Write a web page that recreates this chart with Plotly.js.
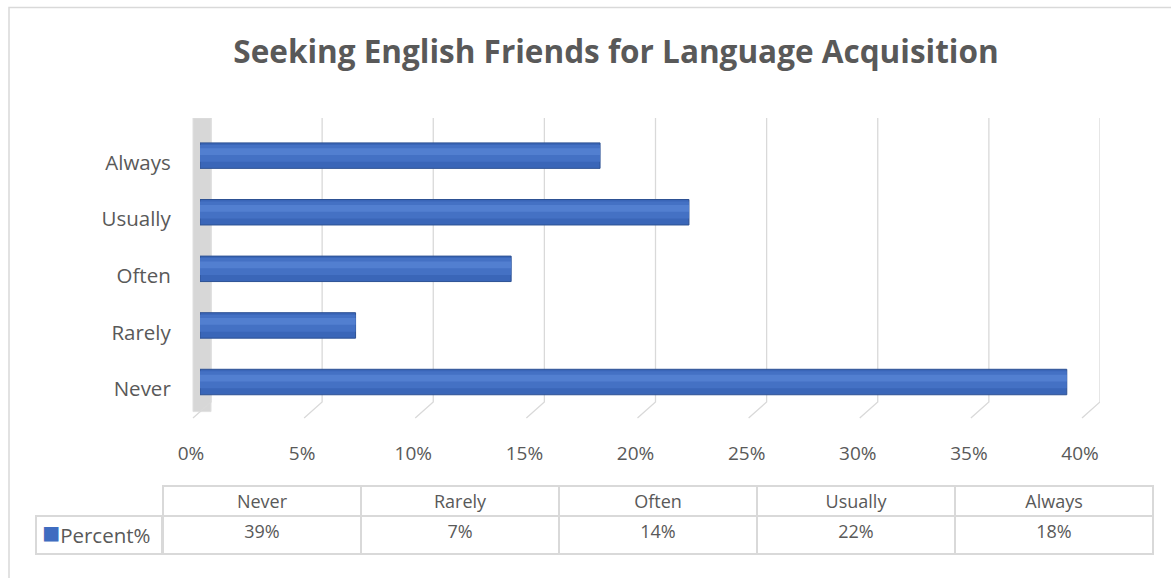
<!DOCTYPE html>
<html>
<head>
<meta charset="utf-8">
<script src="https://cdn.plot.ly/plotly-3.0.1.min.js"></script>
<style>html,body{margin:0;padding:0;background:#fff;}#chart{width:1171px;height:578px;}</style>
</head>
<body>
<div id="chart"></div>
<script>
// ---- data ----
const categories = ["Never", "Rarely", "Often", "Usually", "Always"];
const percentValues = [0.39, 0.07, 0.14, 0.22, 0.18];
const seriesName = "Percent%";
const xTickValues = [0, 0.05, 0.10, 0.15, 0.20, 0.25, 0.30, 0.35, 0.40];
const xTickLabels = ["0%", "5%", "10%", "15%", "20%", "25%", "30%", "35%", "40%"];
const chartTitle = "Seeking English Friends for Language Acquisition";

// ---- layout helpers (pixel -> paper) ----
const W = 1171, H = 578;
const px = v => v / W;
const py = v => 1 - v / H;

const yIdx = categories.map((c, i) => i);
const txtColor = "#595959";
const gridColor = "#d9d9d9";
const font = "Open Sans, Liberation Sans, sans-serif";

// y scale: 56.6 px per category
const yPx = 56.6;
const yBack = -0.353, yTop = 4.665;      // back-plane bottom / top
const floorDx = 0.0081;                  // 3D depth in x units
const floorDy = 0.283;                   // 3D depth in y units
const yLow = yBack - floorDy - 0.05;
const yDomBottom = 402 + (yBack - yLow) * yPx;

// x scale for back plane: 0 -> 211px, 0.40 -> 1100px
const xPxPerUnit = (1100 - 211) / 0.40;
const xLow = -0.01;
const xDomLeft = 211 + xLow * xPxPerUnit;

// back-plane gridlines + 3D floor diagonals built from tick values
const gridX = [], gridY = [];
xTickValues.forEach(t => {
  gridX.push(t, t, t - floorDx, null);
  gridY.push(yTop, yBack, yBack - floorDy, null);
});

const traces = [
  { // gridlines on back plane (subplot x/y, drawn first)
    type: "scatter", mode: "lines", x: gridX, y: gridY, xaxis: "x", yaxis: "y",
    line: { color: gridColor, width: 1.3 }, hoverinfo: "skip", showlegend: false
  },
  { // main bar (dark edge)
    type: "bar", orientation: "h", name: seriesName, x: percentValues, y: yIdx,
    xaxis: "x2", yaxis: "y",
    width: 0.45, offset: -0.225,
    marker: { color: "#3a66b8", line: { color: "#2d5193", width: 1 } },
    showlegend: false
  },
  { // mid tone
    type: "bar", orientation: "h", x: percentValues, y: yIdx, xaxis: "x2", yaxis: "y",
    width: 0.30, offset: -0.11,
    marker: { color: "#4471c4", line: { width: 0 } }, showlegend: false, hoverinfo: "skip"
  },
  { // highlight
    type: "bar", orientation: "h", x: percentValues, y: yIdx, xaxis: "x2", yaxis: "y",
    width: 0.12, offset: 0.01,
    marker: { color: "#527fd0", line: { width: 0 } }, showlegend: false, hoverinfo: "skip"
  },
  { // data table
    type: "table",
    domain: { x: [px(163), px(1153)], y: [py(556), py(486)] },
    columnwidth: categories.map(() => 1),
    header: {
      values: categories, height: 30, align: "center",
      fill: { color: "#ffffff" }, line: { color: gridColor, width: 1.5 },
      font: { family: font, size: 18, color: txtColor }
    },
    cells: {
      values: percentValues.map(v => [Math.round(v * 100) + "%"]), height: 38, align: "center",
      fill: { color: "#ffffff" }, line: { color: gridColor, width: 1.5 },
      font: { family: font, size: 18, color: txtColor }
    }
  },
  { // legend-key cell border
    type: "table",
    domain: { x: [px(36), px(163)], y: [py(556), py(516)] },
    header: {
      values: [""], height: 38,
      fill: { color: "#ffffff" }, line: { color: gridColor, width: 1.5 },
      font: { family: font, size: 18, color: txtColor }
    },
    cells: { values: [[]], height: 0 }
  }
];

const layout = {
  width: W, height: H,
  margin: { l: 0, r: 0, t: 0, b: 0 },
  paper_bgcolor: "#ffffff", plot_bgcolor: "rgba(0,0,0,0)",
  barmode: "overlay",
  showlegend: false,
  font: { family: font, color: txtColor },
  title: {
    text: "<b>" + chartTitle + "</b>",
    font: { family: font, size: 31.5, color: txtColor },
    x: px(616), xanchor: "center", y: py(52), yanchor: "middle"
  },
  xaxis: { // back plane (gridlines, wall)
    domain: [px(xDomLeft), px(1100)], range: [xLow, 0.40], anchor: "y",
    showgrid: false, showticklabels: false, ticks: "",
    zeroline: false, showline: false
  },
  xaxis2: { // bars + tick labels
    domain: [px(200), px(1089)], range: [0, 0.40], anchor: "y",
    showgrid: false, zeroline: false, showline: false,
    tickvals: xTickValues, ticktext: xTickLabels, ticks: "",
    tickfont: { family: font, size: 19, color: txtColor },
    ticklabelstandoff: 19, ticklabelshift: -9
  },
  yaxis: {
    domain: [py(yDomBottom), py(118)], range: [yLow, yTop],
    tickvals: yIdx, ticktext: categories, ticks: "",
    showgrid: false, zeroline: false, showline: false,
    tickfont: { family: font, size: 20.5, color: txtColor },
    ticklabelstandoff: 17, ticklabelshift: 7
  },
  annotations: [
    {
      xref: "paper", yref: "paper", x: px(40), y: py(531), xanchor: "left", yanchor: "middle",
      showarrow: false,
      text: '<span style="font-size:30px;color:#3f6cc0">■</span>' + seriesName,
      font: { family: font, size: 20.5, color: txtColor }
    }
  ],
  shapes: [
    { // outer chart frame
      type: "rect", xref: "paper", yref: "paper",
      x0: px(9), x1: 1.05, y0: -0.05, y1: py(7.5),
      line: { color: gridColor, width: 1.5 }, fillcolor: "rgba(0,0,0,0)", layer: "below"
    },
    { // 3D side wall
      type: "rect", xref: "x", yref: "y",
      x0: -floorDx, x1: 0, y0: yBack - floorDy * 0.6, y1: yTop,
      line: { color: "#e0e0e0", width: 1 }, fillcolor: "#d7d7d7", layer: "below"
    }
  ]
};

Plotly.newPlot("chart", traces, layout, { displayModeBar: false, staticPlot: true });
</script>
</body>
</html>
